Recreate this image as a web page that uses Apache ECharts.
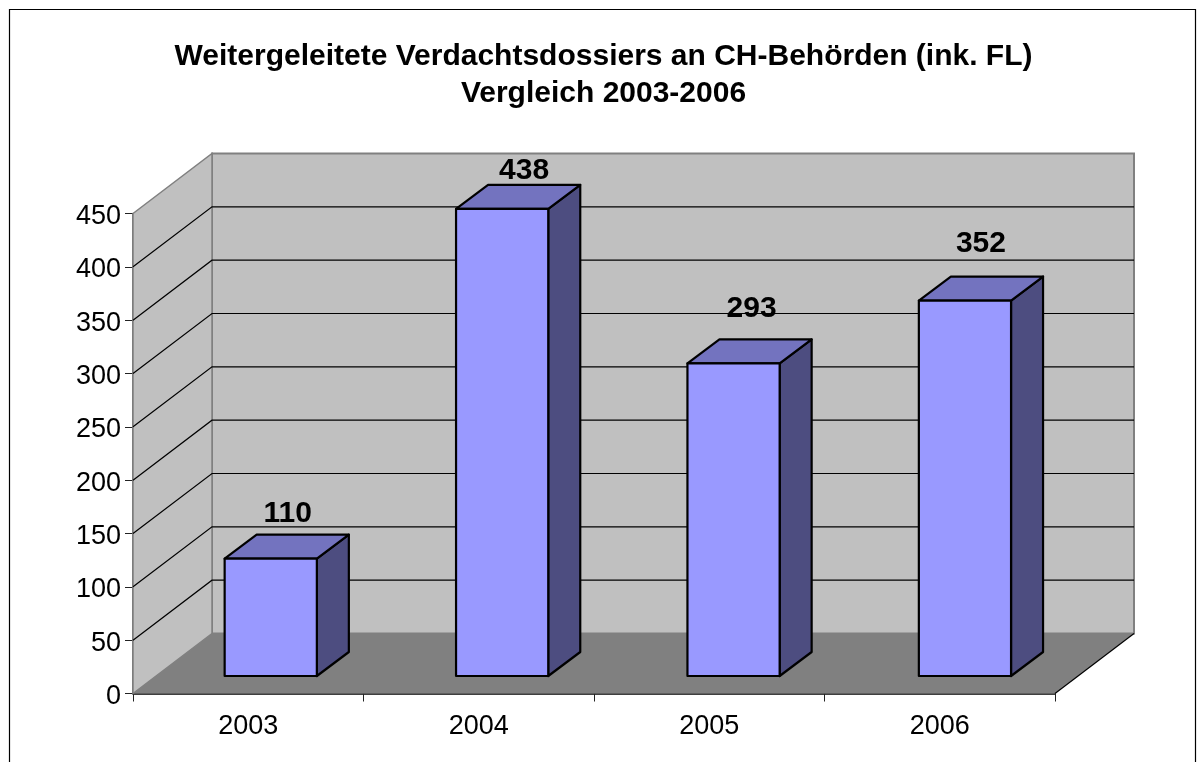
<!DOCTYPE html>
<html><head><meta charset="utf-8">
<style>html,body{margin:0;padding:0;background:#fff;overflow:hidden}#c{width:1198px;height:762px}</style>
<script src="https://cdn.jsdelivr.net/npm/echarts@6/dist/echarts.min.js"></script>
</head><body><div id="c"></div>
<script>
const categories = ['2003', '2004', '2005', '2006'];
const dossiers = [110, 438, 293, 352];
const gridTicks = [0, 50, 100, 150, 200, 250, 300, 350, 400, 450];
const titleLines = ['Weitergeleitete Verdachtsdossiers an CH-Behörden (ink. FL)', 'Vergleich 2003-2006'];

// styling / projection constants
const FONT = '"Liberation Sans", Arial, sans-serif';
const ROOM = { dx: 79, dy: -60 };
const BAR = { shiftX: 22.5, shiftY: -17.5, dx: 32, dy: -24, widthRatio: 0.4, spread: 0.9 };
const LABEL_NUDGE = [[17, -45], [22, -38], [18, -55], [16, -57]];

const chart = echarts.init(document.getElementById('c'), null, { renderer: 'canvas' });

function roomItem(params, api) {
  const c = params.coordSys;
  const x0 = c.x, x1 = c.x + c.width;
  const yOf = v => api.coord([0, v])[1];
  const y0 = yOf(0), yT = yOf(450);
  const d = ROOM;
  const kids = [
    { type: 'polygon', shape: { points: [[x0 + d.dx, yT + d.dy], [x1 + d.dx, yT + d.dy], [x1 + d.dx, y0 + d.dy], [x0 + d.dx, y0 + d.dy]] },
      style: { fill: '#C0C0C0', stroke: '#808080', lineWidth: 2 } },
    { type: 'polygon', shape: { points: [[x0, yT], [x0 + d.dx, yT + d.dy], [x0 + d.dx, y0 + d.dy], [x0, y0]] },
      style: { fill: '#C0C0C0', stroke: '#808080', lineWidth: 1.5 } },
    { type: 'polygon', shape: { points: [[x0, y0], [x0 + d.dx, y0 + d.dy], [x1 + d.dx, y0 + d.dy], [x1, y0]] },
      style: { fill: '#808080' } }
  ];
  gridTicks.forEach(v => {
    if (v === 0 || v === 450) return;
    const y = yOf(v);
    kids.push({ type: 'polyline', shape: { points: [[x0, y], [x0 + d.dx, y + d.dy], [x1 + d.dx, y + d.dy]] },
      style: { fill: null, stroke: '#000', lineWidth: 1.2 } });
  });
  kids.push({ type: 'line', shape: { x1: x1, y1: y0, x2: x1 + d.dx, y2: y0 + d.dy }, style: { stroke: '#000', lineWidth: 1.2 } });
  return { type: 'group', children: kids };
}

function barItem(params, api) {
  const i = api.value(0), v = api.value(1);
  const bw = api.size([1, 0])[0] * BAR.widthRatio;
  const top = api.coord([i, v]), base = api.coord([i, 0]);
  const l = top[0] + BAR.shiftX + i * BAR.spread - bw / 2, r = l + bw;
  const t = top[1] + BAR.shiftY, b = base[1] + BAR.shiftY;
  const dx = BAR.dx, dy = BAR.dy;
  const edge = { stroke: '#000', lineWidth: 2.2, lineJoin: 'round' };
  const n = LABEL_NUDGE[params.dataIndex];
  return { type: 'group', children: [
    { type: 'polygon', shape: { points: [[r, t], [r + dx, t + dy], [r + dx, b + dy], [r, b]] }, style: { fill: '#4D4D80', ...edge } },
    { type: 'polygon', shape: { points: [[l, t], [l + dx, t + dy], [r + dx, t + dy], [r, t]] }, style: { fill: '#7373BF', ...edge } },
    { type: 'rect', shape: { x: l, y: t, width: bw, height: b - t }, style: { fill: '#9999FF', ...edge } },
    { type: 'text', x: (l + r) / 2 + n[0], y: t + n[1],
      style: { text: String(v), fill: '#000', font: 'bold 30px ' + FONT, align: 'center', verticalAlign: 'middle' } }
  ] };
}

chart.setOption({
  animation: false,
  backgroundColor: '#fff',
  title: {
    text: titleLines.join('\n'), left: 598.5, top: 33, textAlign: 'center',
    textStyle: { fontFamily: FONT, fontWeight: 'bold', fontSize: 30, lineHeight: 37, color: '#000' }
  },
  graphic: [{ type: 'rect', z: -1, shape: { x: 9.5, y: 9.5, width: 1186, height: 780 }, style: { fill: '#fff', stroke: '#000', lineWidth: 1.2 } }],
  grid: { left: 133, top: 213.5, width: 922, height: 480 },
  xAxis: {
    type: 'category', data: categories,
    axisLine: { lineStyle: { color: '#000', width: 1.5 } },
    axisTick: { show: true, length: 8, alignWithLabel: false, lineStyle: { color: '#222' } },
    axisLabel: { fontFamily: FONT, fontSize: 27, color: '#000', margin: 20 }
  },
  yAxis: {
    type: 'value', min: 0, max: 450, interval: 50,
    splitLine: { show: false },
    axisLine: { show: true, lineStyle: { color: '#444', width: 1.5 } },
    axisTick: { show: true, length: 8, lineStyle: { color: '#222' } },
    axisLabel: { margin: 12, formatter: '{a|{value}}',
      rich: { a: { fontFamily: FONT, fontSize: 27, color: '#000', padding: [6, 0, 0, 0] } } }
  },
  series: [
    { type: 'custom', coordinateSystem: 'cartesian2d', clip: false, z: 1, silent: true, renderItem: roomItem, data: [[0, 0]] },
    { type: 'custom', coordinateSystem: 'cartesian2d', clip: false, z: 3, silent: true, renderItem: barItem,
      encode: { x: 0, y: 1 }, data: dossiers.map((v, i) => [i, v]) }
  ]
});
</script></body></html>
